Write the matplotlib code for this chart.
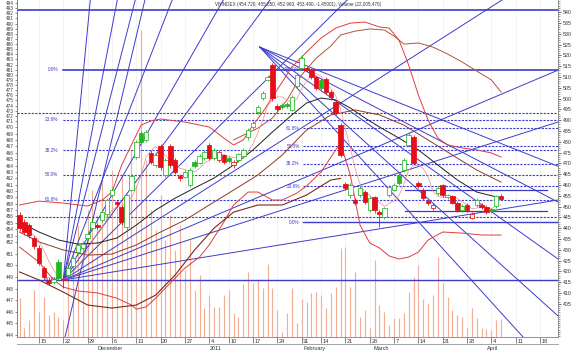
import numpy as np
import pandas as pd
import matplotlib
matplotlib.use("Agg")
import matplotlib.pyplot as plt

plt.rcParams['font.family'] = ['Liberation Sans', 'DejaVu Sans']

# ---------------- data (trading-day index, prices) ----------------
day_idx = list(range(-4, 96))
opens = [446.1, 442.8, 441.4, 435.4, 430.8, 421.5, 416.0, 415.0, 424.3, 416.4,
         418.3, 422.4, 428.9, 430.8, 435.4, 440.0, 441.4, 443.7, 446.5, 455.3,
         452.1, 449.8, 440.5, 457.6, 472.9, 484.0, 480.8, 474.8, 469.2, 478.0,
         464.6, 478.0, 471.5, 464.1, 463.6, 459.9, 470.6, 470.1, 472.4, 478.5,
         472.4, 471.5, 473.8, 472.4, 469.2, 471.5, 473.4, 482.2, 486.8, 493.7,
         500.2, 508.6, 515.5, 496.5, 497.0, 497.4, 494.7, 505.8, 514.1, 514.1,
         513.2, 509.9, 508.6, 509.0, 503.0, 498.4, 487.7, 460.4, 455.3, 453.0,
         455.3, 456.7, 448.4, 454.4, 447.4, 445.1, 455.3, 457.6, 464.6, 466.9,
         478.5, 482.2, 460.9, 457.6, 452.5, 449.3, 456.2, 459.9, 454.4, 454.9,
         451.6, 448.4, 450.7, 444.7, 450.7, 450.7, 449.8, 448.8, 450.2, 454.72]
closes = [440.0, 438.2, 436.8, 431.7, 423.8, 417.4, 414.6, 416.4, 416.9, 416.0,
          421.5, 426.1, 432.2, 432.6, 437.3, 442.8, 440.5, 447.4, 453.0, 457.6,
          451.1, 442.8, 455.3, 464.1, 479.9, 479.9, 484.5, 470.6, 473.8, 468.3,
          471.5, 469.2, 466.0, 463.2, 466.0, 466.9, 468.7, 473.4, 475.2, 472.4,
          476.2, 475.2, 470.6, 471.1, 470.6, 474.3, 476.2, 485.4, 488.7, 496.1,
          502.5, 509.9, 500.2, 495.1, 496.1, 496.5, 500.7, 510.9, 518.7, 513.2,
          509.9, 504.9, 504.9, 503.0, 500.7, 493.3, 473.8, 458.6, 459.9, 451.6,
          458.6, 452.1, 453.9, 448.4, 446.5, 449.3, 459.0, 459.9, 460.9, 471.5,
          483.1, 470.1, 459.5, 453.9, 451.6, 450.7, 458.6, 455.3, 455.3, 451.6,
          448.4, 450.2, 448.4, 446.5, 453.0, 449.8, 447.4, 447.9, 454.9, 453.49]
highs = [447.5, 444.0, 442.5, 436.5, 432.0, 422.5, 417.0, 417.5, 425.5, 418.0,
         422.5, 427.0, 433.0, 433.5, 438.5, 444.0, 442.5, 448.5, 454.0, 458.5,
         453.0, 450.5, 456.0, 465.0, 481.0, 485.0, 485.5, 476.0, 474.5, 479.0,
         472.5, 479.0, 472.5, 465.0, 467.0, 468.0, 471.5, 474.5, 476.0, 479.5,
         477.0, 476.0, 474.5, 473.5, 471.5, 475.0, 477.0, 486.5, 489.5, 497.0,
         503.5, 511.0, 516.5, 497.5, 498.0, 498.5, 501.5, 511.5, 520.0, 515.0,
         514.0, 510.5, 509.5, 510.0, 504.0, 499.0, 488.5, 461.5, 461.0, 454.0,
         459.5, 457.5, 455.0, 455.0, 448.5, 450.0, 460.0, 461.0, 465.5, 472.5,
         484.5, 483.0, 462.0, 458.5, 453.5, 451.5, 459.5, 460.5, 456.0, 455.5,
         452.5, 451.0, 451.5, 447.5, 454.0, 451.5, 450.5, 449.5, 455.5, 455.85]
lows = [438.5, 437.0, 435.5, 430.5, 423.0, 416.5, 413.5, 414.0, 416.0, 412.3,
        417.5, 421.5, 428.0, 430.0, 434.5, 439.0, 439.5, 443.0, 445.5, 454.5,
        450.0, 441.5, 439.5, 457.0, 472.0, 479.0, 480.0, 469.5, 468.5, 467.0,
        463.5, 468.0, 465.0, 462.0, 463.0, 459.0, 468.0, 469.5, 471.5, 471.5,
        471.5, 470.5, 469.5, 470.0, 468.0, 470.5, 472.5, 481.0, 486.0, 493.0,
        499.5, 508.0, 499.0, 494.0, 495.0, 495.5, 494.0, 505.0, 513.5, 512.5,
        509.0, 504.0, 504.0, 502.0, 499.5, 492.5, 473.0, 457.5, 454.0, 450.5,
        454.5, 451.0, 447.5, 447.0, 440.5, 444.0, 454.5, 457.0, 460.0, 466.0,
        477.5, 469.5, 458.5, 453.0, 450.5, 448.5, 455.5, 454.5, 453.5, 451.0,
        447.5, 447.5, 447.5, 444.0, 450.0, 449.0, 446.5, 447.0, 449.5, 452.96]
volumes = [25.5, 20.5, 21.8, 26.8, 23.2, 25.6, 22.7, 23.2, 22.3, 21.8,
           31.8, 33.5, 37.6, 35.1, 40.1, 43.4, 39.3, 45.1, 41.8, 46.7,
           40.9, 45.9, 42.6, 50.1, 44.2, 70.0, 48.4, 40.1, 36.8, 42.6,
           35.1, 39.3, 33.5, 37.6, 30.1, 35.1, 26.8, 29.3, 23.8, 26.0,
           24.0, 24.0, 26.0, 26.8, 23.0, 22.3, 27.8, 29.8, 28.0, 28.6,
           27.1, 31.1, 27.1, 23.5, 19.8, 23.0, 27.1, 21.3, 25.3, 24.8,
           26.3, 26.5, 26.0, 23.8, 26.3, 27.3, 33.8, 34.0, 27.3, 29.8,
           22.3, 23.5, 20.5, 31.8, 24.3, 23.2, 21.0, 22.2, 22.2, 23.0,
           26.5, 29.0, 31.0, 25.3, 24.6, 26.0, 32.3, 28.0, 25.6, 23.5,
           22.7, 22.3, 20.5, 23.8, 22.2, 20.5, 20.3, 20.2, 21.8, 22.0]

# x-axis labels
week_idx = [0, 5, 10, 15, 20, 25, 30, 35, 39, 44, 49, 54, 58, 63, 68, 73, 78, 83, 88, 93, 98, 103]
week_labels = ["15", "22", "29", "6", "13", "20", "27", "4", "10", "17", "24", "31",
               "14", "21", "28", "7", "14", "21", "28", "4", "11", "18"]
month_idx = [12, 35, 54.3, 68.7, 92]
month_labels = ["December", "2011", "February", "March", "April"]

# indicator curves (trading-day index, value)
bb_up_idx = [-4, 0, 5, 10, 13, 15, 17, 19, 21, 23, 25, 30, 35, 38, 40, 42, 44, 46, 48, 50,
             52, 55, 58, 61, 64, 67, 70, 72, 74, 76, 78, 80, 82, 84, 87, 90, 93, 95]
bb_up_val = [450.7, 452.5, 451.6, 450.2, 453.0, 456.7, 469.2, 478.5, 487.7, 489.6, 490.5,
             489.1, 486.8, 481.7, 478.5, 480.8, 487.7, 493.7, 500.7, 507.6, 514.6, 521.5,
             528.0, 532.6, 534.9, 535.4, 533.1, 532.6, 527.1, 515.5, 501.6, 490.0, 481.7,
             478.5, 477.1, 476.2, 474.8, 472.9]
bb_lo_idx = [-4, 0, 3, 5, 8, 12, 16, 19, 20, 22, 24, 27, 30, 33, 35, 38, 40, 43, 45, 48,
             50, 53, 55, 58, 61, 62, 64, 66, 68, 70, 72, 74, 76, 78, 80, 83, 87, 91, 95]
bb_lo_val = [431.2, 424.3, 416.0, 412.7, 410.9, 410.0, 407.6, 404.4, 402.5, 403.5, 407.6,
             414.6, 421.5, 426.6, 432.2, 442.8, 450.7, 456.7, 456.7, 453.0, 453.0, 456.2,
             459.5, 466.0, 476.2, 479.4, 464.6, 441.4, 433.1, 430.8, 427.1, 425.7, 426.6,
             428.9, 434.5, 438.2, 437.7, 436.8, 436.8]
bb2_up_idx = [40, 45, 48, 51, 54, 57, 60, 62, 65, 68, 71, 73, 75, 78, 81, 84, 87, 90, 93, 95]
bb2_up_val = [480.8, 486.3, 491.0, 499.3, 510.9, 518.7, 524.3, 529.4, 531.2, 532.2, 531.7,
              528.9, 525.2, 525.7, 523.8, 520.6, 516.9, 512.7, 508.6, 503.0]
bb2_lo_idx = [-4, 0, 5, 10, 15, 20, 24, 28, 32, 36, 40, 45, 50, 55, 60, 62]
bb2_lo_val = [419.7, 416.0, 410.4, 404.4, 403.0, 404.4, 409.0, 418.3, 429.9, 440.0, 447.4,
              450.7, 450.7, 455.3, 462.3, 463.0]
ma_black_idx = [-4, 0, 4, 8, 12, 16, 20, 24, 28, 32, 36, 40, 44, 48, 52, 55, 58, 61, 64,
                67, 70, 74, 78, 82, 86, 90, 95]
ma_black_val = [442.8, 438.2, 434.5, 432.6, 433.1, 435.4, 441.4, 448.4, 453.9, 458.6,
                463.2, 469.2, 476.2, 484.5, 492.4, 497.9, 500.2, 499.3, 495.6, 491.0,
                486.8, 481.7, 476.2, 469.2, 462.3, 456.7, 453.9]
ma_slow_idx = [-4, 0, 5, 10, 15, 20, 25, 30, 35, 40, 45, 50, 55, 60, 65, 70, 75, 80, 85, 90, 95]
ma_slow_val = [438.2, 433.6, 429.9, 427.5, 428.0, 432.2, 438.2, 443.7, 450.7, 457.6,
               464.6, 473.8, 485.4, 492.4, 494.7, 492.4, 487.7, 480.8, 473.8, 466.9, 461.3]

# drawing-tool anchors
fan_origin = (5.0, 416.0)
fan_slopes = [23.35, 11.68, 8.76, 5.79, 3.94, 3.05, 2.22, 1.437, 0.955, 0.719, 0.364]
extra_line = (5.35, 389.6, 9.5)
down_origin = (45.4, 523.8)
down_slopes = [-0.90, -1.17, -1.60, -2.03, -2.48]
fib1_low, fib1_start = 416.0, 5.0
fib_high = 513.2
fib2_low, fib2_start = 442.8, 54.3
fib_levels = [0.236, 0.382, 0.5, 0.618]
extra_dashed = [493.3, 445.1]
top_line = 541.0
short_lines = [457.6, 447.9]
short_span = (75.3, 104.4)

header = "VNINDEX (454.720, 455.850, 452.960, 453.490, -1.45001), Volume (22,005,470)"

# left-axis label scale anchors (price -> label)
left_anchor_price = [380.0, 390.5, 433.6, 489.6, 544.2, 556.0]
left_anchor_label = [442.05, 444.0, 452.0, 471.0, 494.0, 499.0]

# ---------------- figure ----------------
W, H = 575, 351
fig = plt.figure(figsize=(W / 100, H / 100), dpi=100, facecolor='white')
ax = fig.add_axes([17 / W, 14 / H, (558 - 17) / W, 337 / H])
axv = ax.twinx()
ax.set_zorder(axv.get_zorder() + 1)
ax.patch.set_visible(False)

XMIN, XMAX = -4.52, 106.7
YMIN, YMAX = 389.6, 545.6
ax.set_xlim(XMIN, XMAX)
ax.set_ylim(YMIN, YMAX)

# volume
vol_floor = 19
axv.vlines(day_idx, vol_floor, volumes, color='#f2ad92', lw=0.85)
axv.set_ylim(vol_floor, 75)
axv.set_axis_off()

# grid
for wi in week_idx:
    ax.axvline(wi, color='#cfcfcf', ls=(0, (1, 2)), lw=0.5, zorder=0)

BLUE = '#3c3ccc'
# horizontal lines
ax.axhline(top_line, color=BLUE, lw=1.2, zorder=2)
ax.axhline(fib1_low, color=BLUE, lw=1.0, zorder=2)
ax.plot([fib1_start, XMAX], [fib_high, fib_high], color=BLUE, lw=1.2, zorder=2)
ax.plot([fib2_start, XMAX], [fib2_low, fib2_low], color=BLUE, lw=1.0, zorder=2)
for lv in fib_levels:
    p1 = fib_high - lv * (fib_high - fib1_low)
    ax.plot([fib1_start, XMAX], [p1, p1], color=BLUE, lw=0.8, ls=(0, (2, 1.2)), zorder=2)
    p2 = fib2_low + lv * (fib_high - fib2_low)
    ax.plot([fib2_start, XMAX], [p2, p2], color=BLUE, lw=0.8, ls=(0, (2, 1.2)), zorder=2)
for pe in extra_dashed:
    ax.axhline(pe, color=BLUE, lw=0.8, ls=(0, (2, 1.2)), zorder=2)
for ps in short_lines:
    ax.plot(short_span, [ps, ps], color=BLUE, lw=0.9, zorder=2)

# fib labels
lab_kw = dict(fontsize=3.4, color=BLUE, ha='right', va='center', zorder=7)
ax.text(4.0, fib_high, "0.0%", **lab_kw)
ax.text(4.0, fib1_low, "100.0%", **lab_kw)
ax.text(53.6, fib_high, "100.0%", **lab_kw)
ax.text(53.6, fib2_low, "0.0%", **lab_kw)
for lv in fib_levels:
    ax.text(4.0, fib_high - lv * (fib_high - fib1_low), f"{lv*100:.1f}%", **lab_kw)
    ax.text(53.6, fib2_low + lv * (fib_high - fib2_low), f"{lv*100:.1f}%", **lab_kw)

# fans
x0, p0 = fan_origin
for s in fan_slopes:
    ax.plot([x0, XMAX], [p0, p0 + s * (XMAX - x0)], color=BLUE, lw=0.7, zorder=2)
ex, ep, es = extra_line
ax.plot([ex, XMAX], [ep, ep + es * (XMAX - ex)], color=BLUE, lw=0.7, zorder=2)
dx0, dp0 = down_origin
for s in down_slopes:
    ax.plot([dx0, XMAX], [dp0, dp0 + s * (XMAX - dx0)], color=BLUE, lw=0.7, zorder=2)

# indicator curves
ax.plot(bb_up_idx, bb_up_val, color='#e03c3c', lw=0.7, zorder=3)
ax.plot(bb_lo_idx, bb_lo_val, color='#e03c3c', lw=0.7, zorder=3)
ax.plot(bb2_up_idx, bb2_up_val, color='#b0563a', lw=0.7, zorder=3)
ax.plot(bb2_lo_idx, bb2_lo_val, color='#7a2a1a', lw=0.8, zorder=3)
ax.plot(ma_black_idx, ma_black_val, color='#202020', lw=0.7, zorder=3)
ax.plot(ma_slow_idx, ma_slow_val, color='#8b3a2a', lw=0.7, zorder=3)
ma5 = pd.Series(closes).rolling(5, min_periods=1).mean()
ax.plot(day_idx, ma5, color='#f08a8a', lw=0.5, zorder=3)

# candles
o = np.array(opens); c = np.array(closes); h = np.array(highs); l = np.array(lows)
prev = np.r_[o[0], c[:-1]]
for xi, oi, ci, hi, li, pv in zip(day_idx, o, c, h, l, prev):
    col = '#22b822' if ci >= pv else '#e60f18'
    filled = ci < oi
    ax.vlines(xi, li, hi, color=col, lw=0.6, zorder=5)
    ax.bar(xi, max(abs(ci - oi), 0.4), bottom=min(oi, ci), width=0.92,
           facecolor=col if filled else 'white', edgecolor=col, lw=0.55, zorder=6)

# right axis
ax.yaxis.tick_right()
ax.set_yticks(np.arange(405, 545, 5))
ax.set_yticks(np.arange(390, 546, 1), minor=True)
ax.tick_params(axis='y', which='major', labelsize=3.8, length=2.5, width=0.5, pad=1,
               colors='#333333')
ax.tick_params(axis='y', which='minor', length=1.2, width=0.4, colors='#555555')

# left axis labels
fwd = lambda p: np.interp(p, left_anchor_price, left_anchor_label)
inv = lambda v: np.interp(v, left_anchor_label, left_anchor_price)
sec = ax.secondary_yaxis('left', functions=(fwd, inv))
sec.set_yticks(list(range(444, 495)))
sec.tick_params(labelsize=3.3, length=1.5, width=0.4, pad=0.8, colors='#333333')
sec.spines['left'].set_color('#808080')
sec.spines['left'].set_linewidth(0.6)

# x axis
ax.set_xticks(week_idx)
ax.set_xticklabels([])
ax.tick_params(axis='x', length=4.5, width=0.5, colors='#555555')
xt = ax.get_xaxis_transform()
for wi, wl in zip(week_idx, week_labels):
    ax.text(wi + 0.3, -0.012, wl, transform=xt, fontsize=4.0, ha='left', va='center',
            color='#333333', clip_on=False)
for mi, ml in zip(month_idx, month_labels):
    ax.text(mi, -0.034, ml, transform=xt, fontsize=4.0, ha='left', va='center',
            color='#333333', clip_on=False)
ax.plot([0, 1], [-0.021, -0.021], transform=ax.transAxes, color='#808080', lw=0.5,
        clip_on=False)

for side in ['left', 'right', 'bottom']:
    ax.spines[side].set_color('#808080')
    ax.spines[side].set_linewidth(0.6)
ax.spines['top'].set_visible(False)

fig.text(215 / W, 1 - 4.5 / H, header, fontsize=3.3, color='#333333', ha='left', va='center')

fig.savefig('out.png', dpi=100, facecolor='white')
